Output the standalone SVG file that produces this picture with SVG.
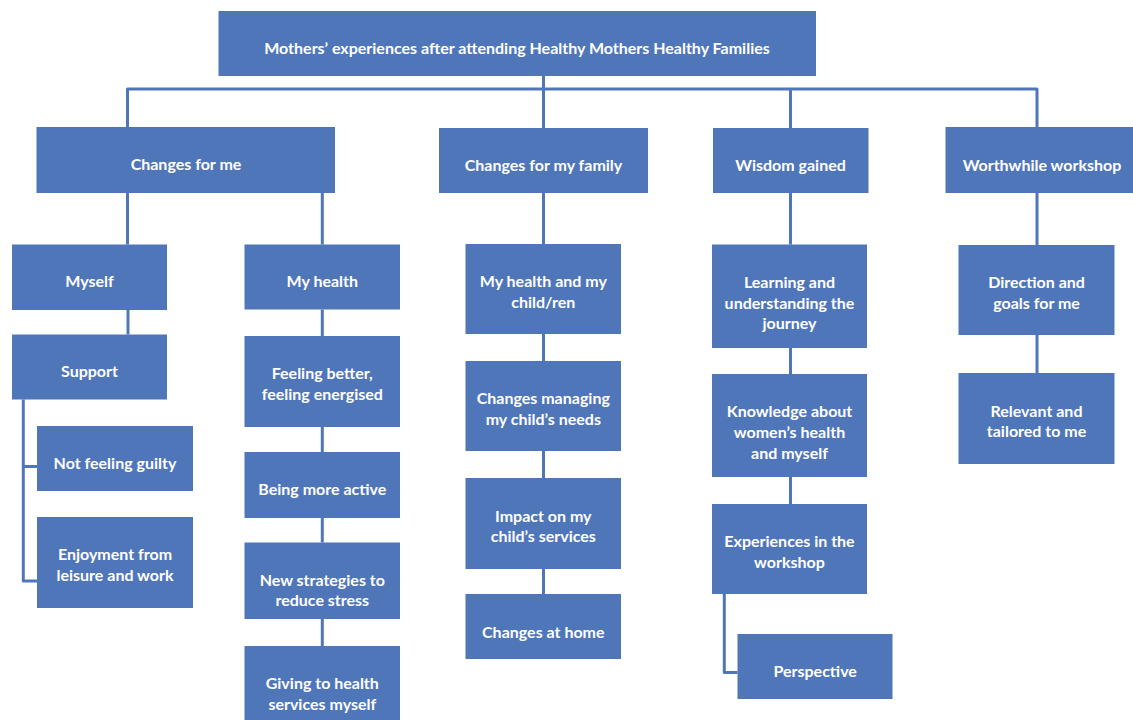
<svg xmlns="http://www.w3.org/2000/svg" width="1133" height="720" viewBox="0 0 1133 720">
<style>
.box{fill:#5076BA}
.t{fill:#ffffff;font-family:Lato,"Liberation Sans",sans-serif;font-weight:700;font-size:16px;text-anchor:middle}
.c{fill:none;stroke:#5076BA;stroke-width:3;stroke-linejoin:round}
</style>
<rect x="0" y="0" width="1133" height="720" fill="#ffffff"/>
<g id="connectors">
<path class="c" d="M127.5,127 V89 H1037 V127"/>
<path class="c" d="M543.5,76 V128"/>
<path class="c" d="M790.5,89 V128"/>
<path class="c" d="M127.5,193 V244.5"/>
<path class="c" d="M322.3,193 V244.5"/>
<path class="c" d="M128,310 V334.5"/>
<path class="c" d="M37,466.5 H23.3 V581 H37"/>
<path class="c" d="M23.3,399.5 V466.5"/>
<path class="c" d="M322.3,309.5 V336"/>
<path class="c" d="M322.3,427 V452"/>
<path class="c" d="M322.3,518 V542.5"/>
<path class="c" d="M322.3,619 V646"/>
<path class="c" d="M543.5,193 V244"/>
<path class="c" d="M543.5,334 V361"/>
<path class="c" d="M543.5,451 V478"/>
<path class="c" d="M543.5,569 V594"/>
<path class="c" d="M790.5,193 V244.5"/>
<path class="c" d="M790.5,348 V374"/>
<path class="c" d="M790.5,477 V504"/>
<path class="c" d="M724.3,594 V672.5 H737.5"/>
<path class="c" d="M1037,192.5 V245"/>
<path class="c" d="M1037,335 V373"/>
</g>
<g id="root"><rect class="box" x="218.5" y="11" width="597.5" height="65"/><text class="t" x="517" y="54">Mothers’ experiences after attending Healthy Mothers Healthy Families</text></g>
<g id="changes-me"><rect class="box" x="36.5" y="127" width="298.5" height="66"/><text class="t" x="186" y="169.5">Changes for me</text></g>
<g id="changes-family"><rect class="box" x="439" y="128" width="209" height="65"/><text class="t" x="543.5" y="171">Changes for my family</text></g>
<g id="wisdom"><rect class="box" x="713" y="128" width="155.5" height="65"/><text class="t" x="790.5" y="171">Wisdom gained</text></g>
<g id="worthwhile"><rect class="box" x="945.5" y="127" width="195" height="66"/><text class="t" x="1042" y="170.5">Worthwhile workshop</text></g>
<g id="myself"><rect class="box" x="12" y="244.5" width="155" height="65.5"/><text class="t" x="89.5" y="287">Myself</text></g>
<g id="support"><rect class="box" x="12" y="334.5" width="155" height="65"/><text class="t" x="89.5" y="377">Support</text></g>
<g id="not-guilty"><rect class="box" x="37" y="426" width="156" height="65"/><text class="t" x="115" y="468.5">Not feeling guilty</text></g>
<g id="enjoyment"><rect class="box" x="37" y="517" width="156" height="91"/><text class="t" x="115" y="559.5">Enjoyment from</text><text class="t" x="115" y="580.5">leisure and work</text></g>
<g id="my-health"><rect class="box" x="244.5" y="244.5" width="155.5" height="65"/><text class="t" x="322.3" y="287">My health</text></g>
<g id="feeling-better"><rect class="box" x="244.5" y="336" width="155.5" height="91"/><text class="t" x="322.3" y="378.5">Feeling better,</text><text class="t" x="322.3" y="399.5">feeling energised</text></g>
<g id="more-active"><rect class="box" x="244.5" y="452" width="155.5" height="66"/><text class="t" x="322.3" y="494.5">Being more active</text></g>
<g id="strategies"><rect class="box" x="244.5" y="542.5" width="155.5" height="76.5"/><text class="t" x="322.3" y="585.5">New strategies to</text><text class="t" x="322.3" y="606">reduce stress</text></g>
<g id="giving"><rect class="box" x="244.5" y="646" width="155.5" height="80"/><text class="t" x="322.3" y="689">Giving to health</text><text class="t" x="322.3" y="709.5">services myself</text></g>
<g id="health-child"><rect class="box" x="465.5" y="244" width="155.5" height="90"/><text class="t" x="543.3" y="287">My health and my</text><text class="t" x="543.3" y="307.5">child/ren</text></g>
<g id="managing"><rect class="box" x="465.5" y="361" width="155.5" height="90"/><text class="t" x="543.3" y="404">Changes managing</text><text class="t" x="543.3" y="424.5">my child’s needs</text></g>
<g id="impact"><rect class="box" x="465.5" y="478" width="155.5" height="91"/><text class="t" x="543.3" y="521.5">Impact on my</text><text class="t" x="543.3" y="541.8">child’s services</text></g>
<g id="home"><rect class="box" x="465.5" y="594" width="155.5" height="65"/><text class="t" x="543.3" y="637.5">Changes at home</text></g>
<g id="learning"><rect class="box" x="712" y="244.5" width="155" height="103.5"/><text class="t" x="789.5" y="287.8">Learning and</text><text class="t" x="789.5" y="308.5">understanding the</text><text class="t" x="789.5" y="329.2">journey</text></g>
<g id="knowledge"><rect class="box" x="712" y="374" width="155" height="103"/><text class="t" x="789.5" y="417">Knowledge about</text><text class="t" x="789.5" y="437.7">women’s health</text><text class="t" x="789.5" y="458.5">and myself</text></g>
<g id="experiences"><rect class="box" x="712" y="504" width="155" height="90"/><text class="t" x="789.5" y="546.5">Experiences in the</text><text class="t" x="789.5" y="567.5">workshop</text></g>
<g id="perspective"><rect class="box" x="737.5" y="634" width="155" height="65"/><text class="t" x="815.2" y="677">Perspective</text></g>
<g id="direction"><rect class="box" x="958.5" y="245" width="156" height="90"/><text class="t" x="1036.5" y="287.8">Direction and</text><text class="t" x="1036.5" y="308.5">goals for me</text></g>
<g id="relevant"><rect class="box" x="958.5" y="373" width="156" height="91"/><text class="t" x="1036.5" y="416.5">Relevant and</text><text class="t" x="1036.5" y="437">tailored to me</text></g>
</svg>
